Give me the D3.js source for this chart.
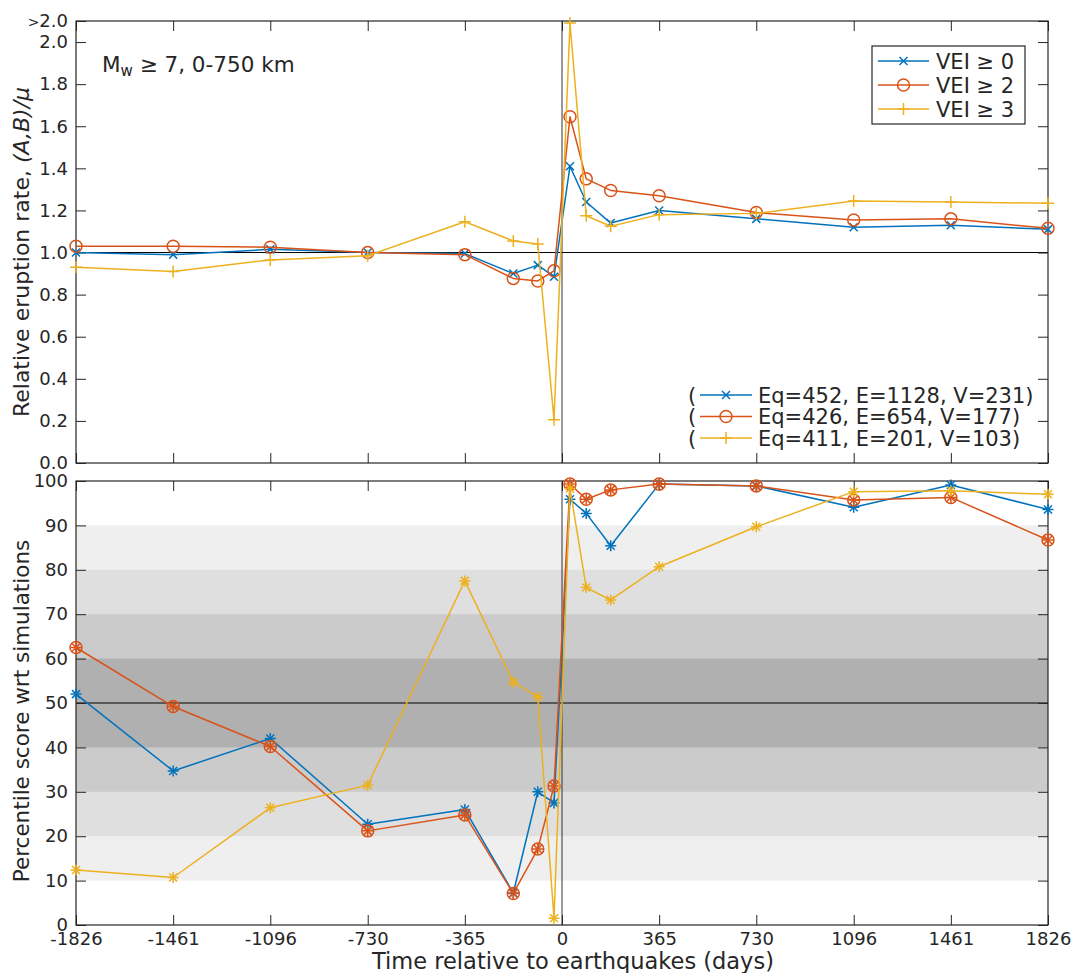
<!DOCTYPE html>
<html>
<head>
<meta charset="utf-8">
<script src="https://cdn.jsdelivr.net/npm/d3@7"></script>
<style>
    body { margin: 0; background: #fff; }
    svg { display: block; font-family: "DejaVu Sans", Verdana, sans-serif; }
</style>
</head>
<body>
<div id="chart"></div>
<script>
// days relative to earthquake (window centres)
var days = [-1826, -1461, -1096, -730, -365, -183, -91, -30, 30, 91, 183, 365, 730, 1096, 1461, 1826];
var dayTicks = [-1826, -1461, -1096, -730, -365, 0, 365, 730, 1096, 1461, 1826];

// relative eruption rate (A,B)/mu
var rateVei0 = [1.00, 0.99, 1.015, 1.00, 0.995, 0.90, 0.94, 0.885, 1.41, 1.24, 1.14, 1.20, 1.16, 1.12, 1.13, 1.11];
var rateVei2 = [1.03, 1.03, 1.025, 1.00, 0.99, 0.877, 0.865, 0.913, 1.645, 1.35, 1.295, 1.27, 1.19, 1.155, 1.16, 1.115];
var rateVei3 = [0.93, 0.91, 0.965, 0.985, 1.146, 1.055, 1.04, 0.205, 2.09, 1.175, 1.125, 1.18, 1.186, 1.245, 1.24, 1.234];

// percentile score wrt simulations
var pctVei0 = [52.0, 34.7, 42.0, 22.7, 26.0, 7.2, 30.0, 27.5, 95.9, 92.7, 85.4, 99.3, 98.9, 94.1, 99.1, 93.6];
var pctVei2 = [62.5, 49.2, 40.2, 21.2, 24.8, 7.1, 17.1, 31.3, 99.3, 95.9, 98.0, 99.3, 98.9, 95.7, 96.3, 86.7];
var pctVei3 = [12.4, 10.7, 26.4, 31.5, 77.5, 54.7, 51.4, 1.5, 98.3, 76.0, 73.2, 80.7, 89.7, 97.6, 97.8, 97.0];

var seriesNames = ["VEI \u2265 0", "VEI \u2265 2", "VEI \u2265 3"];
var countLabels = ["Eq=452, E=1128, V=231)", "Eq=426, E=654, V=177)", "Eq=411, E=201, V=103)"];
var rateTicks = [0, 0.2, 0.4, 0.6, 0.8, 1.0, 1.2, 1.4, 1.6, 1.8, 2.0, 2.1];
var pctTicks = [0, 10, 20, 30, 40, 50, 60, 70, 80, 90, 100];
var bandLevels = [[10, 90], [20, 80], [30, 70], [40, 60]];

var colors = ["#0072bd", "#d95319", "#edb120"];
var bandColors = ["#efefef", "#dfdfdf", "#cbcbcb", "#b0b0b0"];
var axisColor = "#262626";

var width = 1072, height = 973;
var left = 76, right = 1048;
var topPanel = { y0: 21, y1: 463 };
var botPanel = { y0: 481, y1: 925 };
var tickLen = 10;

var svg = d3.select("#chart").append("svg")
    .attr("width", width)
    .attr("height", height)
    .attr("viewBox", `0 0 ${width} ${height}`);

var scaleX = d3.scaleLinear([-1826, 1826], [left, right]);
var scaleRate = d3.scaleLinear([0, 2.1], [topPanel.y1, topPanel.y0]);
var scalePct = d3.scaleLinear([0, 100], [botPanel.y1, botPanel.y0]);

function drawMarker(g, kind, x, y, color)
{
    var m = g.append("g").attr("transform", `translate(${x},${y})`)
        .attr("stroke", color).attr("stroke-width", 1.5).attr("fill", "none");
    if (kind === "o")
        m.append("circle").attr("r", 6);
    if (kind === "x" || kind === "*") {
        var s = 4;
        m.append("path").attr("d", `M${-s},${-s}L${s},${s}M${-s},${s}L${s},${-s}`);
    }
    if (kind === "+" || kind === "*") {
        var p = kind === "+" ? 6 : 5.5;
        m.append("path").attr("d", `M${-p},0L${p},0M0,${-p}L0,${p}`);
    }
}

function drawFrame(scaleY, panel, yTicks, yFormat, showX)
{
    var g = svg.append("g");
    // left axis with labels
    g.append("g")
        .attr("class", "y-left")
        .attr("transform", `translate(${left},0)`)
        .call(d3.axisLeft(scaleY).tickValues(yTicks).tickFormat(yFormat)
            .tickSizeInner(-tickLen).tickSizeOuter(0).tickPadding(8));
    // right axis, ticks only
    g.append("g")
        .attr("transform", `translate(${right},0)`)
        .call(d3.axisRight(scaleY).tickValues(yTicks).tickFormat("")
            .tickSizeInner(-tickLen).tickSizeOuter(0));
    // bottom axis
    g.append("g")
        .attr("transform", `translate(0,${panel.y1})`)
        .call(d3.axisBottom(scaleX).tickValues(dayTicks)
            .tickFormat(showX ? function (d) { return String(d); } : "")
            .tickSizeInner(-tickLen).tickSizeOuter(0).tickPadding(7));
    // top axis
    g.append("g")
        .attr("transform", `translate(0,${panel.y0})`)
        .call(d3.axisTop(scaleX).tickValues(dayTicks).tickFormat("")
            .tickSizeInner(-tickLen).tickSizeOuter(0));

    g.selectAll(".domain").remove();
    g.selectAll(".tick line").attr("stroke", axisColor).attr("stroke-width", 1);
    g.selectAll(".tick text")
        .attr("fill", axisColor)
        .attr("font-family", '"DejaVu Sans", Verdana, sans-serif')
        .attr("font-size", "18px");

    g.append("rect")
        .attr("x", left).attr("y", panel.y0)
        .attr("width", right - left).attr("height", panel.y1 - panel.y0)
        .attr("fill", "none").attr("stroke", axisColor).attr("stroke-width", 1.2);
    return g;
}

function drawSeries(scaleY, values, color, markers)
{
    var g = svg.append("g");
    var line = d3.line().x(function (d, i) { return scaleX(days[i]); }).y(function (d) { return scaleY(d); });
    g.append("path")
        .datum(values)
        .attr("d", line)
        .attr("fill", "none")
        .attr("stroke", color)
        .attr("stroke-width", 1.5)
        .attr("stroke-linejoin", "round");
    values.forEach(function (v, i) {
        markers.forEach(function (k) { drawMarker(g, k, scaleX(days[i]), scaleY(v), color); });
    });
}

// ---------- bottom panel bands ----------
bandLevels.forEach(function (b, i) {
    svg.append("rect")
        .attr("x", left).attr("width", right - left)
        .attr("y", scalePct(b[1]))
        .attr("height", scalePct(b[0]) - scalePct(b[1]))
        .attr("fill", bandColors[i]);
});

// reference lines
svg.append("line")
    .attr("x1", left).attr("x2", right)
    .attr("y1", scaleRate(1)).attr("y2", scaleRate(1))
    .attr("stroke", "#000").attr("stroke-width", 1);
svg.append("line")
    .attr("x1", left).attr("x2", right)
    .attr("y1", scalePct(50)).attr("y2", scalePct(50))
    .attr("stroke", "#000").attr("stroke-width", 1);
[topPanel, botPanel].forEach(function (p) {
    svg.append("line")
        .attr("x1", scaleX(0)).attr("x2", scaleX(0))
        .attr("y1", p.y0).attr("y2", p.y1)
        .attr("stroke", "#333").attr("stroke-width", 1);
});

var topFrame = drawFrame(scaleRate, topPanel, rateTicks, function (d) { return d === 2.1 ? "2.0" : d3.format(".1f")(d); }, false);
drawFrame(scalePct, botPanel, pctTicks, function (d) { return String(d); }, true);

// ">2.0" top label
topFrame.select(".y-left").selectAll(".tick text")
    .filter(function (d) { return d === 2.1; })
    .text(null)
    .call(function (t) {
        t.append("tspan").attr("font-size", "14px").text(">");
        t.append("tspan").text("2.0");
    });

var rateSets = [rateVei0, rateVei2, rateVei3];
var pctSets = [pctVei0, pctVei2, pctVei3];
var topMarkers = [["x"], ["o"], ["+"]];
var botMarkers = [["*"], ["o", "*"], ["*"]];

rateSets.forEach(function (s, i) { drawSeries(scaleRate, s, colors[i], topMarkers[i]); });
pctSets.forEach(function (s, i) { drawSeries(scalePct, s, colors[i], botMarkers[i]); });

// ---------- annotations ----------
var note = svg.append("text")
    .attr("x", 102).attr("y", 72)
    .attr("font-size", "21.5px").attr("fill", axisColor);
note.append("tspan").text("M");
note.append("tspan").attr("font-size", "15px").attr("dy", "4").text("w");
note.append("tspan").attr("dy", "-4").text(" \u2265 7, 0-750 km");

// legend box
var legend = svg.append("g");
legend.append("rect")
    .attr("x", 872).attr("y", 46).attr("width", 153).attr("height", 78)
    .attr("fill", "#fff").attr("stroke", axisColor).attr("stroke-width", 1.2);
seriesNames.forEach(function (name, i) {
    var y = 61 + i * 24;
    legend.append("line")
        .attr("x1", 878).attr("x2", 929).attr("y1", y).attr("y2", y)
        .attr("stroke", colors[i]).attr("stroke-width", 1.5);
    topMarkers[i].forEach(function (k) { drawMarker(legend, k, 903.5, y, colors[i]); });
    legend.append("text")
        .attr("x", 936).attr("y", y).attr("dy", "0.36em")
        .attr("font-size", "21px").attr("fill", axisColor)
        .text(name);
});

// counts legend
var counts = svg.append("g");
countLabels.forEach(function (label, i) {
    var y = 395 + i * 21.5;
    counts.append("text")
        .attr("x", 688).attr("y", y).attr("dy", "0.36em")
        .attr("font-size", "21px").attr("fill", axisColor)
        .text("(");
    counts.append("line")
        .attr("x1", 700).attr("x2", 752).attr("y1", y).attr("y2", y)
        .attr("stroke", colors[i]).attr("stroke-width", 1.5);
    topMarkers[i].forEach(function (k) { drawMarker(counts, k, 726, y, colors[i]); });
    counts.append("text")
        .attr("x", 758).attr("y", y).attr("dy", "0.36em")
        .attr("font-size", "21px").attr("fill", axisColor)
        .text(label);
});

// axis titles
var yTitle = svg.append("text")
    .attr("transform", `translate(29,${(topPanel.y0 + topPanel.y1) / 2 + 10}) rotate(-90)`)
    .attr("text-anchor", "middle")
    .attr("font-size", "22px").attr("fill", axisColor);
yTitle.append("tspan").text("Relative eruption rate, ");
yTitle.append("tspan").attr("font-style", "italic").text("(A,B)/\u03bc");

svg.append("text")
    .attr("transform", `translate(29,${(botPanel.y0 + botPanel.y1) / 2 + 8}) rotate(-90)`)
    .attr("text-anchor", "middle")
    .attr("font-size", "21.5px").attr("fill", axisColor)
    .text("Percentile score wrt simulations");

svg.append("text")
    .attr("x", (left + right) / 2 + 11).attr("y", 969)
    .attr("text-anchor", "middle")
    .attr("font-size", "22.5px").attr("fill", axisColor)
    .text("Time relative to earthquakes (days)");
</script>
</body>
</html>
